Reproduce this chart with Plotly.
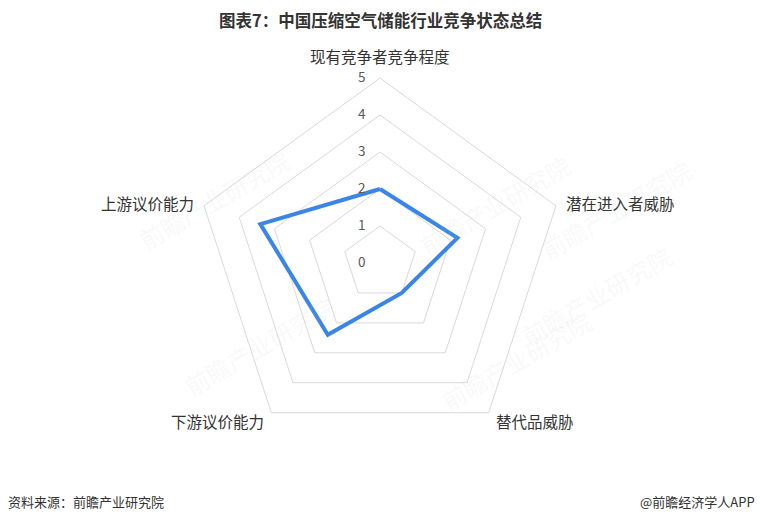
import math
import plotly.graph_objects as go

categories = ["现有竞争者竞争程度", "潜在进入者威胁", "替代品威胁", "下游议价能力", "上游议价能力"]
values = [2, 2.2, 1, 2.4, 3.4]
tick_vals = [0, 1, 2, 3, 4, 5]

W, H = 760, 524
cx, cy, R = 380, 263, 185

fig = go.Figure()
fig.add_trace(go.Scatterpolar(
    r=values + values[:1],
    theta=categories + categories[:1],
    mode="lines",
    line=dict(color="#3A86E8", width=4),
    hoverinfo="skip",
    showlegend=False,
))

FONT = "Noto Sans CJK SC"
fig.update_layout(
    width=W, height=H,
    margin=dict(l=0, r=0, t=0, b=0),
    paper_bgcolor="white",
    font=dict(family=FONT, color="#333333"),
    polar=dict(
        domain=dict(x=[(cx - R) / W, (cx + R) / W], y=[(H - cy - R) / H, (H - cy + R) / H]),
        gridshape="linear",
        bgcolor="white",
        radialaxis=dict(
            range=[0, 5], tickvals=tick_vals,
            ticktext=[str(v) + "\u00a0\u00a0\u00a0\u00a0" for v in tick_vals],
            angle=90, side="counterclockwise", showline=False, ticks="",
            gridcolor="#D9D9D9", gridwidth=1,
            tickfont=dict(size=13.5, color="#595959", family=FONT),
            tickangle=90,
        ),
        angularaxis=dict(
            rotation=90, direction="clockwise", showgrid=False, showline=True,
            linecolor="#D9D9D9", ticks="", showticklabels=False,
        ),
    ),
)

# category labels around the pentagon
n = len(categories)
for i, name in enumerate(categories):
    a = math.radians(90 - 360 * i / n)
    c, s = math.cos(a), math.sin(a)
    px = cx + (R + 10) * c
    py = cy - (R + 10) * s
    if abs(c) < 0.1:
        xa, ya = "center", "bottom"
    else:
        xa, ya = ("left" if c > 0 else "right"), "middle"
    fig.add_annotation(x=px / W, y=1 - py / H, xref="paper", yref="paper", showarrow=False,
                       text=name, xanchor=xa, yanchor=ya, borderpad=0,
                       font=dict(size=15.5, color="#333333", family=FONT))

# faint watermarks
for (x, y) in [(495, 145), (130, 200), (680, 295), (175, 345), (600, 420), (700, 150)]:
    fig.add_annotation(x=x / W, y=1 - y / H, xref="paper", yref="paper", showarrow=False,
                       text="前瞻产业研究院", textangle=-30,
                       font=dict(size=24, color="rgba(200,205,215,0.13)", family=FONT))

fig.add_annotation(x=0.5, y=1 - 20 / H, xref="paper", yref="paper", showarrow=False,
                   text="<b>图表7：中国压缩空气储能行业竞争状态总结</b>",
                   font=dict(size=16.5, color="#333333", family=FONT), xanchor="center", yanchor="middle")
fig.add_annotation(x=6 / W, y=1 - 501 / H, xref="paper", yref="paper", showarrow=False,
                   text="资料来源：前瞻产业研究院", xanchor="left", yanchor="middle",
                   font=dict(size=13, color="#333333", family=FONT))
fig.add_annotation(x=757 / W, y=1 - 501 / H, xref="paper", yref="paper", showarrow=False,
                   text="@前瞻经济学人APP", xanchor="right", yanchor="middle",
                   font=dict(size=13, color="#333333", family=FONT))

fig.write_html("out.html", config={"displayModeBar": False},
               post_script="document.body.style.margin='0';")
